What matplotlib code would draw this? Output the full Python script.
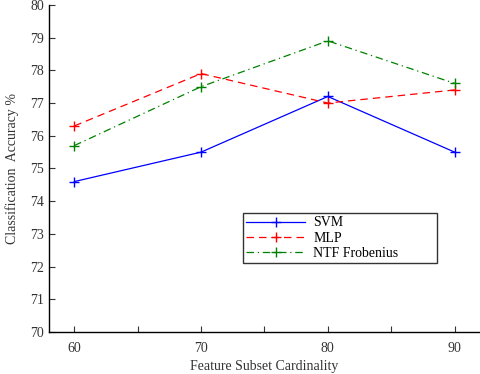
import matplotlib
matplotlib.use("Agg")
import matplotlib.pyplot as plt

cardinality = [60, 70, 80, 90]
svm = [74.6, 75.5, 77.2, 75.5]
mlp = [76.3, 77.9, 77.0, 77.4]
ntf = [75.7, 77.5, 78.9, 77.6]

plt.rcParams["font.family"] = ["Liberation Serif", "DejaVu Serif"]

fig = plt.figure(figsize=(4.8, 3.74), dpi=100)
ax = fig.add_axes([0.102, 0.112, 0.898, 0.875])

ax.plot(cardinality, svm, color="#0000ff", ls="-", lw=0.9, marker="+", ms=7, mew=1, label="SVM")
ax.plot(cardinality, mlp, color="#ff0000", ls=(0, (6, 4)), lw=0.9, marker="+", ms=7, mew=1, label="MLP")
ax.plot(cardinality, ntf, color="#008000", ls=(0, (6, 3, 1, 3)), lw=0.9, marker="+", ms=7, mew=1,
        label="NTF Frobenius")

ax.set_xlim(58, 92)
ax.set_ylim(70, 80)
ax.set_xticks([60, 65, 70, 75, 80, 85, 90])
ax.set_xticklabels(["60", "", "70", "", "80", "", "90"])
ax.set_yticks(range(70, 81))
ax.tick_params(direction="in", length=4, labelsize=10, colors="#333333")
ax.tick_params(axis="x", pad=7)
for s in ["top", "right"]:
    ax.spines[s].set_visible(False)
for s in ["left", "bottom"]:
    ax.spines[s].set_linewidth(1.0)

ax.set_xlabel("Feature Subset Cardinality", fontsize=10, color="#333333", labelpad=4)
ax.set_ylabel("Classification  Accuracy %", fontsize=10, color="#333333", labelpad=8)

leg = ax.legend(loc="lower left", bbox_to_anchor=(0.45, 0.211, 0.45, 0.147), mode="expand",
                fontsize=10, frameon=True, fancybox=False, edgecolor="black",
                borderpad=0.25, labelspacing=0.15, handlelength=4.2, handletextpad=0.6,
                borderaxespad=0)
leg.get_frame().set_linewidth(1.0)

fig.savefig("out.png", dpi=100)
